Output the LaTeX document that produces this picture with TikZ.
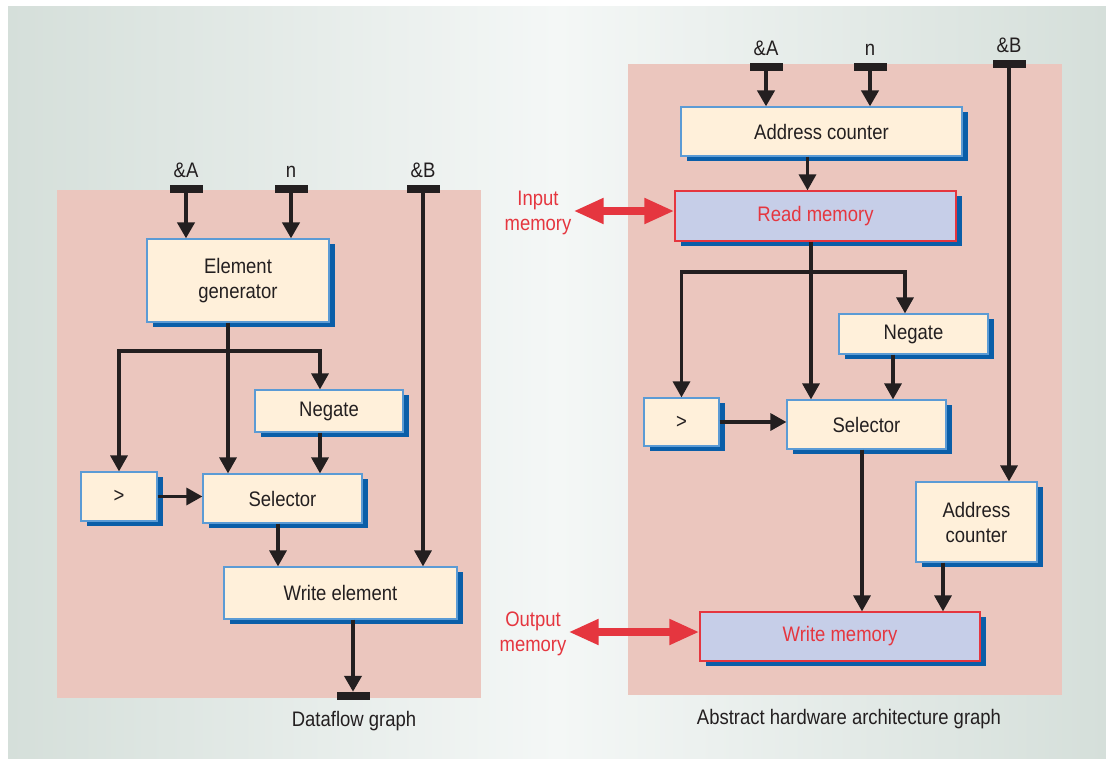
\documentclass[tikz,border=0pt]{standalone}
\usepackage{fontspec}
\setmainfont[FakeStretch=0.88]{Liberation Sans}
\usetikzlibrary{positioning}
\usetikzlibrary{arrows.meta}
\usetikzlibrary{shadows}
\definecolor{bgside}{HTML}{D5DFDA}
\definecolor{bgmid}{HTML}{F4F7F6}
\definecolor{panel}{HTML}{EBC6BE}
\definecolor{boxfill}{HTML}{FFF0DA}
\definecolor{boxline}{HTML}{5B9BD5}
\definecolor{shadowblue}{HTML}{0A5EA8}
\definecolor{memfill}{HTML}{C6CEE8}
\definecolor{memred}{HTML}{E5363F}
\definecolor{ink}{HTML}{231F20}
\begin{document}
\begin{tikzpicture}[x=1pt,y=-1pt,
            font=\fontsize{21}{25}\selectfont, text=ink,
            box/.style = {draw=boxline,line width=1.2pt,fill=boxfill,
                align=center,inner sep=0pt,
                drop shadow={shadow xshift=6pt,shadow yshift=-5pt,
                    fill=shadowblue,opacity=1}},
            membox/.style = {box,draw=memred,fill=memfill,text=memred},
            port/.style = {fill=ink,minimum width=33pt,minimum height=8pt,
                inner sep=0pt},
            portlbl/.style = {above=4pt of #1},
            flow/.style = {draw=ink,line width=3.3pt,
                -{Triangle[length=16pt,width=17pt]}},
            inflow/.style = {flow,line width=4pt},
            bidir/.style = {draw=memred,line width=8pt,
                {Triangle[length=30pt,width=24pt]}-{Triangle[length=30pt,width=24pt]}},
            memlbl/.style = {align=center,text=memred,inner sep=2pt}]
            \useasboundingbox[fill=white] (0,0) rectangle (1106,758);
            \shade[left color=bgside,right color=bgside,middle color=bgmid]
                (8,6) rectangle (1106,758);
            % dataflow graph
            \fill[panel] (57,190) rectangle (481,698);
            \node[port] (pA1) at (186,189) {};
            \node[port] (pn1) at (291,189) {};
            \node[port] (pB1) at (423,189) {};
            \node[portlbl=pA1] (lA1) {\&A};
            \node[portlbl=pn1] (ln1) {n};
            \node[portlbl=pB1] (lB1) {\&B};
            \node[box,minimum width=182pt,minimum height=83pt] (elgen)
                at (238,280.5) {Element\\generator};
            \node[box,minimum width=148pt,minimum height=42pt] (neg1)
                at (329,411) {Negate};
            \node[box,minimum width=76pt,minimum height=49pt] (gt1)
                at (119,496.5) {>};
            \node[box,minimum width=159pt,minimum height=49pt] (sel1)
                at (282.5,498.5) {Selector};
            \node[box,minimum width=233pt,minimum height=52pt] (wel)
                at (340.5,593) {Write element};
            \node[port] (pOut) at (353,696) {};
            \node (cap1) at (354,721) {Dataflow graph};
            \coordinate (br1) at (228,351);
            \draw[inflow] (pA1) -- (pA1 |- elgen.north);
            \draw[inflow] (pn1) -- (pn1 |- elgen.north);
            \draw[flow] (pB1) -- (pB1 |- wel.north);
            \draw[flow] (elgen.south -| br1) -- (sel1.north -| br1);
            \draw[flow] (br1) -| (gt1.north);
            \draw[flow] (br1) -| ([xshift=-9pt]neg1.north);
            \draw[flow] ([xshift=-9pt]neg1.south) -- ([xshift=-9pt]neg1.south |- sel1.north);
            \draw[flow] (gt1.east) -- (gt1.east -| sel1.west);
            \draw[flow] ([xshift=-4.5pt]sel1.south) -- ([xshift=-4.5pt]sel1.south |- wel.north);
            \draw[inflow] (wel.south -| pOut) -- (pOut.north);
            % hardware architecture graph
            \fill[panel] (628,64) rectangle (1062,695);
            \node[port] (pA2) at (766,67) {};
            \node[port] (pn2) at (870,67) {};
            \node[port] (pB2) at (1009,64) {};
            \node[portlbl=pA2] (lA2) {\&A};
            \node[portlbl=pn2] (ln2) {n};
            \node[portlbl=pB2] (lB2) {\&B};
            \node[box,minimum width=281pt,minimum height=49pt] (ac1)
                at (821.5,131.5) {Address counter};
            \node[membox,minimum width=281pt,minimum height=50pt] (rmem)
                at (815.5,216) {Read memory};
            \node[box,minimum width=149pt,minimum height=40pt] (neg2)
                at (913.5,334) {Negate};
            \node[box,minimum width=75pt,minimum height=48pt] (gt2)
                at (681.5,422) {>};
            \node[box,minimum width=159pt,minimum height=49pt] (sel2)
                at (866.5,424.5) {Selector};
            \node[box,minimum width=121pt,minimum height=80pt] (ac2)
                at (976.5,522) {Address\\counter};
            \node[membox,minimum width=280pt,minimum height=49pt] (wmem)
                at (840,636.5) {Write memory};
            \node[memlbl] (inlbl) at (538,213) {Input\\memory};
            \node[memlbl] (outlbl) at (533,634) {Output\\memory};
            \node (cap2) at (849,719) {Abstract hardware architecture graph};
            \coordinate (br2) at (811,272);
            \draw[inflow] (pA2) -- (pA2 |- ac1.north);
            \draw[inflow] (pn2) -- (pn2 |- ac1.north);
            \draw[flow] (pB2) -- (pB2 |- ac2.north);
            \draw[flow] ([xshift=-14pt]ac1.south) -- ([xshift=-14pt]ac1.south |- rmem.north);
            \draw[flow] (rmem.south -| br2) -- (sel2.north -| br2);
            \draw[flow] (br2) -| (gt2.north);
            \draw[flow] (br2) -| ([xshift=-8.5pt]neg2.north);
            \draw[flow] ([xshift=-20.5pt]neg2.south) -- ([xshift=-20.5pt]neg2.south |- sel2.north);
            \draw[flow] (gt2.east) -- (gt2.east -| sel2.west);
            \draw[flow] ([xshift=-4.5pt]sel2.south) -- ([xshift=-4.5pt]sel2.south |- wmem.north);
            \draw[flow] ([xshift=-33.5pt]ac2.south) -- ([xshift=-33.5pt]ac2.south |- wmem.north);
            \draw[bidir] ([yshift=2pt]inlbl.east) -- ([yshift=2pt]inlbl.east -| rmem.west);
            \draw[bidir] ([yshift=2pt]outlbl.east) -- ([yshift=2pt]outlbl.east -| wmem.west);
        \end{tikzpicture}
\end{document}
